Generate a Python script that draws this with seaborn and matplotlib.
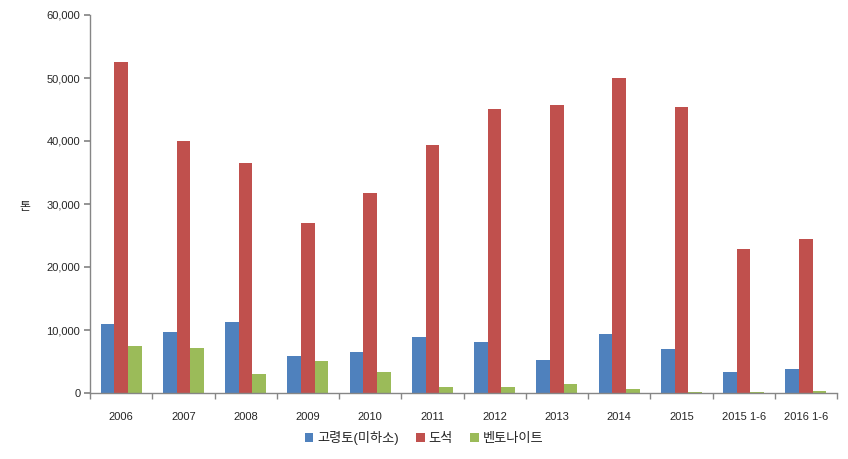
import matplotlib
matplotlib.use("Agg")
import matplotlib.pyplot as plt
import seaborn as sns
import pandas as pd
from matplotlib.ticker import FuncFormatter, FixedLocator

categories = ["2006", "2007", "2008", "2009", "2010", "2011", "2012", "2013", "2014", "2015", "2015 1-6", "2016 1-6"]
kaolin = [11000, 9700, 11200, 5900, 6500, 8900, 8100, 5300, 9400, 7000, 3350, 3800]
pottery_stone = [52500, 40000, 36500, 27000, 31700, 39400, 45100, 45700, 50000, 45400, 22900, 24400]
bentonite = [7500, 7200, 3000, 5100, 3300, 960, 1000, 1400, 650, 150, 150, 300]
series_names = ["고령토(미하소)", "도석", "벤토나이트"]
colors = ["#4F81BD", "#C0504D", "#9BBB59"]

sns.set_theme(style="white")
plt.rcParams["font.family"] = ["Liberation Sans", "Noto Sans CJK KR", "DejaVu Sans"]

rows = []
for name, vals in zip(series_names, [kaolin, pottery_stone, bentonite]):
    for c, v in zip(categories, vals):
        rows.append({"cat": c, "series": name, "value": v})
df = pd.DataFrame(rows)

fig = plt.figure(figsize=(8.48, 4.59), dpi=100)
ax = fig.add_axes([90/848, 1 - 393/459, (837-90)/848, (393-15)/459])

sns.barplot(data=df, x="cat", y="value", hue="series", order=categories,
            hue_order=series_names, palette=colors, width=0.66, gap=0,
            saturation=1, ax=ax, errorbar=None, linewidth=0, edgecolor="none")

ax.set_xlim(-0.5, len(categories) - 0.5)
ax.set_ylim(0, 60000)
ax.set_yticks(range(0, 60001, 10000))
ax.yaxis.set_major_formatter(FuncFormatter(lambda v, p: f"{int(v):,}"))
ax.set_xlabel("")
ax.set_ylabel("")
fig.text(25/848, 1 - 207/459, "톤", fontsize=8.5, ha="center", va="center",
         family=["Noto Sans CJK KR", "DejaVu Sans"])

for s in ["top", "right"]:
    ax.spines[s].set_visible(False)
for s in ["left", "bottom"]:
    ax.spines[s].set_color("#868686")
    ax.spines[s].set_linewidth(1)

ax.tick_params(axis="y", which="major", left=True, length=4, color="#868686",
               labelsize=8, pad=3, direction="out")
ax.tick_params(axis="x", which="major", bottom=False, labelsize=8, pad=8)
ax.xaxis.set_minor_locator(FixedLocator([i - 0.5 for i in range(len(categories) + 1)]))
ax.tick_params(axis="x", which="minor", bottom=True, length=4, color="#868686",
               direction="out")

handles, labels = ax.get_legend_handles_labels()
ax.get_legend().remove()
fig.legend(handles, labels, loc="center", bbox_to_anchor=(0.5, 1 - 438/459),
           ncol=3, frameon=False, fontsize=9.5, handlelength=0.65, handleheight=0.65,
           handletextpad=0.3, columnspacing=1.3)

fig.savefig("out.png", dpi=100)
